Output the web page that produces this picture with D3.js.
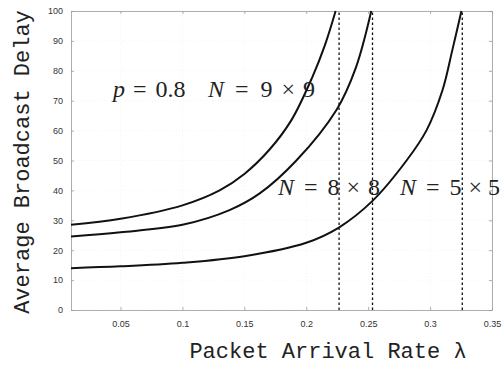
<!DOCTYPE html>
<html>
<head>
<meta charset="utf-8">
<script src="https://cdn.jsdelivr.net/npm/d3@7"></script>
<style>
  body { margin: 0; background: #fff; }
  svg { display: block; }
</style>
</head>
<body>
<svg id="chart"></svg>
<script>
// values
const lambda9 = [0.01, 0.05, 0.1, 0.13, 0.15, 0.17, 0.188, 0.205, 0.215, 0.2237];
const delay9  = [28.5, 30.5, 35, 40, 45.5, 53.5, 63.5, 78, 88.5, 100];

const lambda8 = [0.01, 0.05, 0.1, 0.138, 0.1624, 0.192, 0.2245, 0.24, 0.2525];
const delay8  = [24.6, 26, 28.5, 33.4, 39, 50, 67, 81, 100];

const lambda5 = [0.01, 0.05, 0.1, 0.15, 0.2, 0.226, 0.2535, 0.281, 0.297, 0.31, 0.318, 0.3253];
const delay5  = [14, 14.6, 15.8, 18, 22.5, 27.5, 36.5, 50, 60, 73.5, 87, 100];

const limits = [0.2265, 0.2535, 0.326];

const xTicks = [0.05, 0.1, 0.15, 0.2, 0.25, 0.3, 0.35];
const yTicks = [0, 10, 20, 30, 40, 50, 60, 70, 80, 90, 100];

const width = 503, height = 366;
const margin = {left: 71, right: 11, top: 11, bottom: 56};

const svg = d3.select("#chart")
    .attr("width", width)
    .attr("height", height);

const x = d3.scaleLinear().domain([0.01, 0.35]).range([margin.left, width - margin.right]);
const y = d3.scaleLinear().domain([0, 100]).range([height - margin.bottom, margin.top]);

// faint grid
const grid = svg.append("g").attr("stroke", "#ececec").attr("stroke-width", 0.6).attr("stroke-dasharray", "1,2");
grid.selectAll(".gx").data(xTicks).enter().append("line")
    .attr("x1", d => x(d)).attr("x2", d => x(d))
    .attr("y1", y(0)).attr("y2", y(100));
grid.selectAll(".gy").data(yTicks).enter().append("line")
    .attr("x1", x(0.01)).attr("x2", x(0.35))
    .attr("y1", d => y(d)).attr("y2", d => y(d));

// axes, ticks pointing inward
const axisColor = "#999";
const xAxis = svg.append("g")
    .attr("transform", `translate(0,${y(0)})`)
    .call(d3.axisBottom(x).tickValues(xTicks).tickSizeInner(-3).tickSizeOuter(0).tickPadding(11).tickFormat(d3.format("")));
const xTop = svg.append("g")
    .attr("transform", `translate(0,${y(100)})`)
    .call(d3.axisTop(x).tickValues(xTicks).tickSizeInner(-3).tickSizeOuter(0).tickFormat(""));
const yAxis = svg.append("g")
    .attr("transform", `translate(${x(0.01)},0)`)
    .call(d3.axisLeft(y).tickValues(yTicks).tickSizeInner(-3).tickSizeOuter(0).tickPadding(8));
const yRight = svg.append("g")
    .attr("transform", `translate(${x(0.35)},0)`)
    .call(d3.axisRight(y).tickValues(yTicks).tickSizeInner(-3).tickSizeOuter(0).tickFormat(""));

[xAxis, xTop, yAxis, yRight].forEach(g => {
    g.selectAll("path, line").attr("stroke", axisColor).attr("stroke-width", 0.8);
    g.selectAll("text")
        .attr("fill", "#333")
        .style("font-family", "'Liberation Sans', Arial, sans-serif")
        .style("font-size", "9px");
});

// vertical dashed limit lines
svg.append("g").selectAll("line").data(limits).enter().append("line")
    .attr("x1", d => x(d)).attr("x2", d => x(d))
    .attr("y1", y(0)).attr("y2", y(100))
    .attr("stroke", "#111").attr("stroke-width", 1.3).attr("stroke-dasharray", "2.5,2.5");

// curves
const line = d3.line().x(d => x(d[0])).y(d => y(d[1])).curve(d3.curveCatmullRom.alpha(0.5));
const series = [
    d3.zip(lambda9, delay9),
    d3.zip(lambda8, delay8),
    d3.zip(lambda5, delay5)
];
svg.append("g").selectAll("path").data(series).enter().append("path")
    .attr("d", line)
    .attr("fill", "none")
    .attr("stroke", "#111")
    .attr("stroke-width", 2);

// math labels: [text, italic, gap before]
function mathLabel(px, py, parts) {
    const t = svg.append("text")
        .attr("x", px).attr("y", py)
        .style("font-family", "'Liberation Serif', 'DejaVu Serif', serif")
        .style("font-size", "24px")
        .attr("fill", "#222");
    parts.forEach(p => {
        t.append("tspan").text(p[0]).attr("dx", p[2]).style("font-style", p[1] ? "italic" : "normal");
    });
}
mathLabel(113, 97, [["p", true, 0], ["=", false, 8], ["0.8", false, 9]]);
mathLabel(208, 97, [["N", true, 0], ["=", false, 11], ["9", false, 12], ["×", false, 9], ["9", false, 8]]);
mathLabel(278, 195, [["N", true, 0], ["=", false, 10], ["8", false, 10], ["×", false, 7], ["8", false, 8]]);
mathLabel(400, 195, [["N", true, 0], ["=", false, 10], ["5", false, 10], ["×", false, 7], ["5", false, 6]]);

// axis titles
svg.append("text")
    .attr("x", 328).attr("y", 358)
    .attr("text-anchor", "middle")
    .style("font-family", "'Liberation Mono', 'DejaVu Sans Mono', monospace")
    .style("font-size", "22px")
    .attr("fill", "#222")
    .text("Packet Arrival Rate λ");

svg.append("text")
    .attr("transform", "translate(29,162) rotate(-90)")
    .attr("text-anchor", "middle")
    .style("font-family", "'Liberation Mono', 'DejaVu Sans Mono', monospace")
    .style("font-size", "22px")
    .attr("fill", "#222")
    .text("Average Broadcast Delay");
</script>
</body>
</html>
